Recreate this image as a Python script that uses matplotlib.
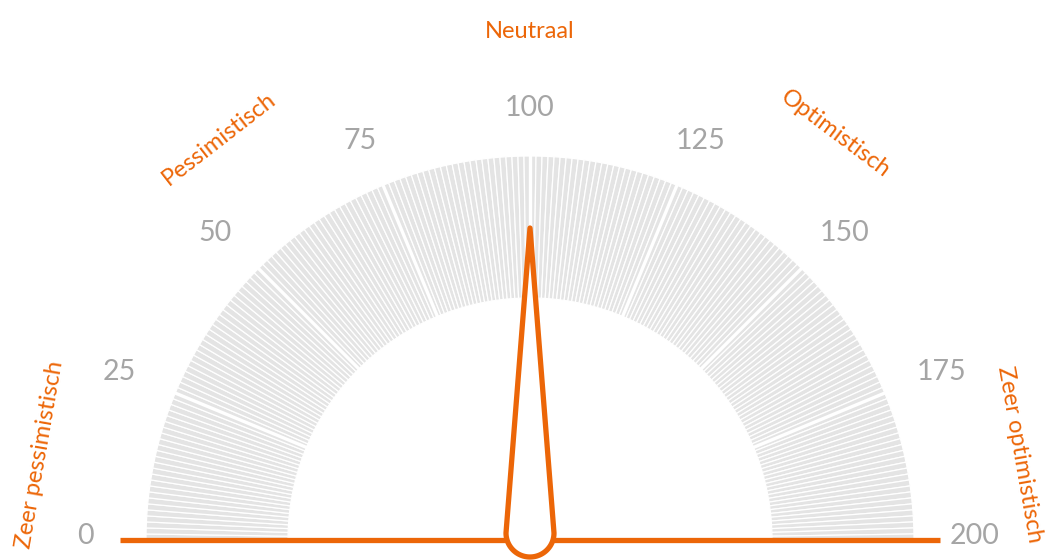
import numpy as np
import matplotlib
matplotlib.use('Agg')
import matplotlib.pyplot as plt
from matplotlib.patches import Wedge, Polygon

# Data
scale_min, scale_max = 0, 200
tick_values = [0, 25, 50, 75, 100, 125, 150, 175, 200]
tick_labels = ['0', '25', '50', '75', '100', '125', '150', '175', '200']
categories = ['Zeer pessimistisch', 'Pessimistisch', 'Neutraal', 'Optimistisch', 'Zeer optimistisch']
category_values = [11, 58, 100, 141, 189]
needle_value = 100

ORANGE = '#EC6608'
GRAY_FILL = '#E4E4E4'
GRAY_TEXT = '#A5A5A5'

plt.rcParams['font.family'] = ['Lato', 'DejaVu Sans']

fig = plt.figure(figsize=(10.56, 5.6), dpi=100)
ax = fig.add_axes([0, 0, 1, 1])
ax.set_xlim(0, 1056)
ax.set_ylim(0, 560)
ax.set_aspect('equal')
ax.axis('off')

cx, cy = 530, 20
r_out, r_in = 384, 242


def to_angle(v):
    return 180 - (v - scale_min) / (scale_max - scale_min) * 180


# thin wedges, one per unit
for v in range(scale_min, scale_max):
    a1, a2 = to_angle(v + 1), to_angle(v)
    ax.add_patch(Wedge((cx, cy), r_out, a1, a2, width=r_out - r_in,
                       facecolor=GRAY_FILL, edgecolor='white', linewidth=0.9))

# wider gaps between the sections
for v in tick_values[1:-1]:
    a = np.radians(to_angle(v))
    ax.plot([cx + (r_in - 2) * np.cos(a), cx + (r_out + 2) * np.cos(a)],
            [cy + (r_in - 2) * np.sin(a), cy + (r_out + 2) * np.sin(a)],
            color='white', linewidth=2.4, solid_capstyle='butt', zorder=3)

# tick numbers
for v, lab in zip(tick_values, tick_labels):
    a = np.radians(to_angle(v))
    ax.text(cx + 445 * np.cos(a), cy + 4 + 428 * np.sin(a), lab,
            ha='center', va='center', fontsize=20.5, color=GRAY_TEXT)

# category labels along the arc
for v, lab in zip(category_values, categories):
    ang = to_angle(v)
    a = np.radians(ang)
    r = 508 if 20 < ang < 160 else 497
    ax.text(cx + r * np.cos(a), cy + r * np.sin(a), lab,
            ha='center', va='center', fontsize=17, color=ORANGE,
            rotation=ang - 90, rotation_mode='anchor')

# base line
ax.plot([cx - 410, cx + 410], [cy, cy], color=ORANGE, linewidth=3.8,
        solid_capstyle='butt', zorder=4)

# needle
na = np.radians(to_angle(needle_value))
bx, by = cx, cy + 7
br = 24
tip = (cx + 312 * np.cos(na), cy + 312 * np.sin(na))
arc = np.linspace(na + np.pi / 2, na + 3 * np.pi / 2, 60)
pts = [tip] + [(bx + br * np.cos(t), by + br * np.sin(t)) for t in arc]
ax.add_patch(Polygon(pts, closed=True, facecolor='white', edgecolor=ORANGE,
                     linewidth=3.8, joinstyle='round', zorder=5))

fig.savefig('out.png', dpi=100)
